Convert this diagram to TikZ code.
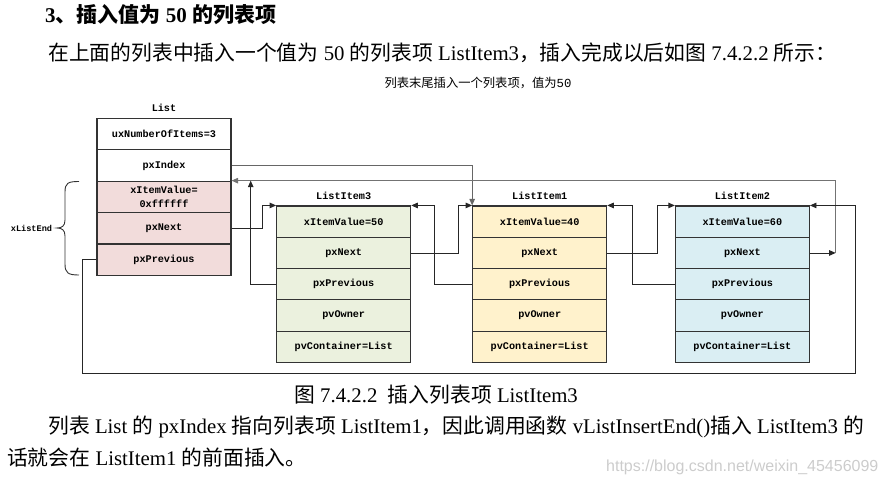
\documentclass[tikz,border=0pt]{standalone}
\usepackage{fontspec}
\setmainfont{Liberation Serif}
\newfontfamily\cjk{Noto Sans CJK SC}
\newfontfamily\monofnt{Liberation Mono}
\newfontfamily\wmfnt{Liberation Sans}
\usetikzlibrary{arrows.meta}
\newcommand{\zh}[1]{{\cjk #1}}
\definecolor{pinkc}{RGB}{242,220,219}
\definecolor{greenc}{RGB}{235,241,222}
\definecolor{yellowc}{RGB}{255,242,204}
\definecolor{bluec}{RGB}{218,238,243}
\tikzset{
  cell/.style={draw=black!80, line width=1.1pt, minimum width=134pt, minimum height=31.4pt,
    inner sep=0pt, align=center, font=\monofnt\bfseries\fontsize{10.2}{14}\selectfont},
  lcell/.style={cell, fill=pinkc},
  wcell/.style={cell, fill=white},
  acell/.style={cell, fill=greenc, minimum height=31.3pt},
  bcell/.style={cell, fill=yellowc, minimum height=31.3pt},
  ccell/.style={cell, fill=bluec, minimum height=31.3pt},
  lbl/.style={inner sep=0pt, font=\monofnt\bfseries\fontsize{10.2}{12}\selectfont},
  conn/.style={line width=0.9pt, draw=black!85},
  arr/.style={conn, -{Triangle[length=6.5pt,width=5.5pt]}},
  txt/.style={inner sep=0pt, anchor=west, font=\fontsize{20.8}{24}\selectfont},
}
\begin{document}
\begin{tikzpicture}[x=1pt,y=-1pt]
\useasboundingbox (0,0) rectangle (887,484);
% texts
\node[txt, font=\fontsize{21}{24}\selectfont\bfseries] (title) at (45,15) {3\zh{、插入值为} 50 \zh{的列表项}};
\node[txt] (para) at (48,53) {\zh{在上面的列表中插入一个值为} 50 \zh{的列表项} ListItem3\zh{，插入完成以后如图} 7.4.2.2 \zh{所示：}};
\node[inner sep=0pt, font=\fontsize{12.3}{14}\selectfont] (sub) at (478,83) {\zh{列表末尾插入一个列表项，值为}\monofnt 50};
\node[txt] (cap) at (294,395) {\zh{图} 7.4.2.2\ \ \zh{插入列表项} ListItem3};
\node[txt] (l1) at (48,427) {\zh{列表} List \zh{的} pxIndex \zh{指向列表项} ListItem1\zh{，因此调用函数} vListInsertEnd()\zh{插入} ListItem3 \zh{的}};
\node[txt] (l2) at (7,458) {\zh{话就会在} ListItem1 \zh{的前面插入。}};
\node[txt, font=\wmfnt\fontsize{16}{18}\selectfont, text=black!20] (wm) at (606,467) {https://blog.csdn.net/weixin\_45456099};

% List
\node[lbl] (Lname) at (164,108) {List};
\node[wcell] (Lnum) at (164,134.1) {uxNumberOfItems=3};
\node[wcell] (Lidx) at (164,165.5) {pxIndex};
\node[lcell] (Lval) at (164,196.9) {xItemValue=\\0xffffff};
\node[lcell] (Lnext) at (164,228.3) {pxNext};
\node[lcell] (Lprev) at (164,259.7) {pxPrevious};
\node[lbl, font=\monofnt\bfseries\fontsize{8.6}{10}\selectfont] (xle) at (31.5,228) {xListEnd};
\draw[line width=0.9pt, black!80] (79,181.5) .. controls (68,181.5) and (65,183) .. (65,192) -- (65,220)
  .. controls (65,226) and (62,228) .. (57,228) .. controls (62,228) and (65,230) .. (65,236)
  -- (65,264) .. controls (65,273) and (68,275) .. (79,275);

% ListItem3
\node[lbl] (Aname) at (343.7,196) {ListItem3};
\node[acell] (A1) at (343.7,221.65) {xItemValue=50};
\node[acell] (A2) at (343.7,252.95) {pxNext};
\node[acell] (A3) at (343.7,284.25) {pxPrevious};
\node[acell] (A4) at (343.7,315.55) {pvOwner};
\node[acell] (A5) at (343.7,346.85) {pvContainer=List};

% ListItem1
\node[lbl] (Bname) at (539.7,196) {ListItem1};
\node[bcell] (B1) at (539.7,221.65) {xItemValue=40};
\node[bcell] (B2) at (539.7,252.95) {pxNext};
\node[bcell] (B3) at (539.7,284.25) {pxPrevious};
\node[bcell] (B4) at (539.7,315.55) {pvOwner};
\node[bcell] (B5) at (539.7,346.85) {pvContainer=List};

% ListItem2
\node[lbl] (Cname) at (742.4,196) {ListItem2};
\node[ccell] (C1) at (742.4,221.65) {xItemValue=60};
\node[ccell] (C2) at (742.4,252.95) {pxNext};
\node[ccell] (C3) at (742.4,284.25) {pxPrevious};
\node[ccell] (C4) at (742.4,315.55) {pvOwner};
\node[ccell] (C5) at (742.4,346.85) {pvContainer=List};

% helper coordinates
\coordinate (xr) at (835.7,0);
\coordinate (k1) at (250.7,0);
\coordinate (lb) at (82,373);
\coordinate (rb) at (855.3,373);

% connectors
\draw[arr, draw=black!60] (Lidx.east) -| (B1.north west);
\draw[arr] (C2.east) -- (C2.east -| xr);
\draw[arr, draw=black!55] (C2.east -| xr) |- (Lval.north east);
\draw[arr] (A3.west) -| (k1 |- Lval.north east);
\draw[arr] (Lnext.east) -- ++(30.7,0) |- (A1.north west);
\draw[arr] (A2.east) -- ++(47,0) |- (B1.north west);
\draw[arr] (B3.west) -- ++(-37.7,0) |- (A1.north east);
\draw[arr] (B2.east) -- ++(50,0) |- (C1.north west);
\draw[arr] (C3.west) -- ++(-42.4,0) |- (B1.north east);
\draw[arr] (Lprev.west) -| (lb) -- (rb) |- (C1.north east);
\end{tikzpicture}
\end{document}
